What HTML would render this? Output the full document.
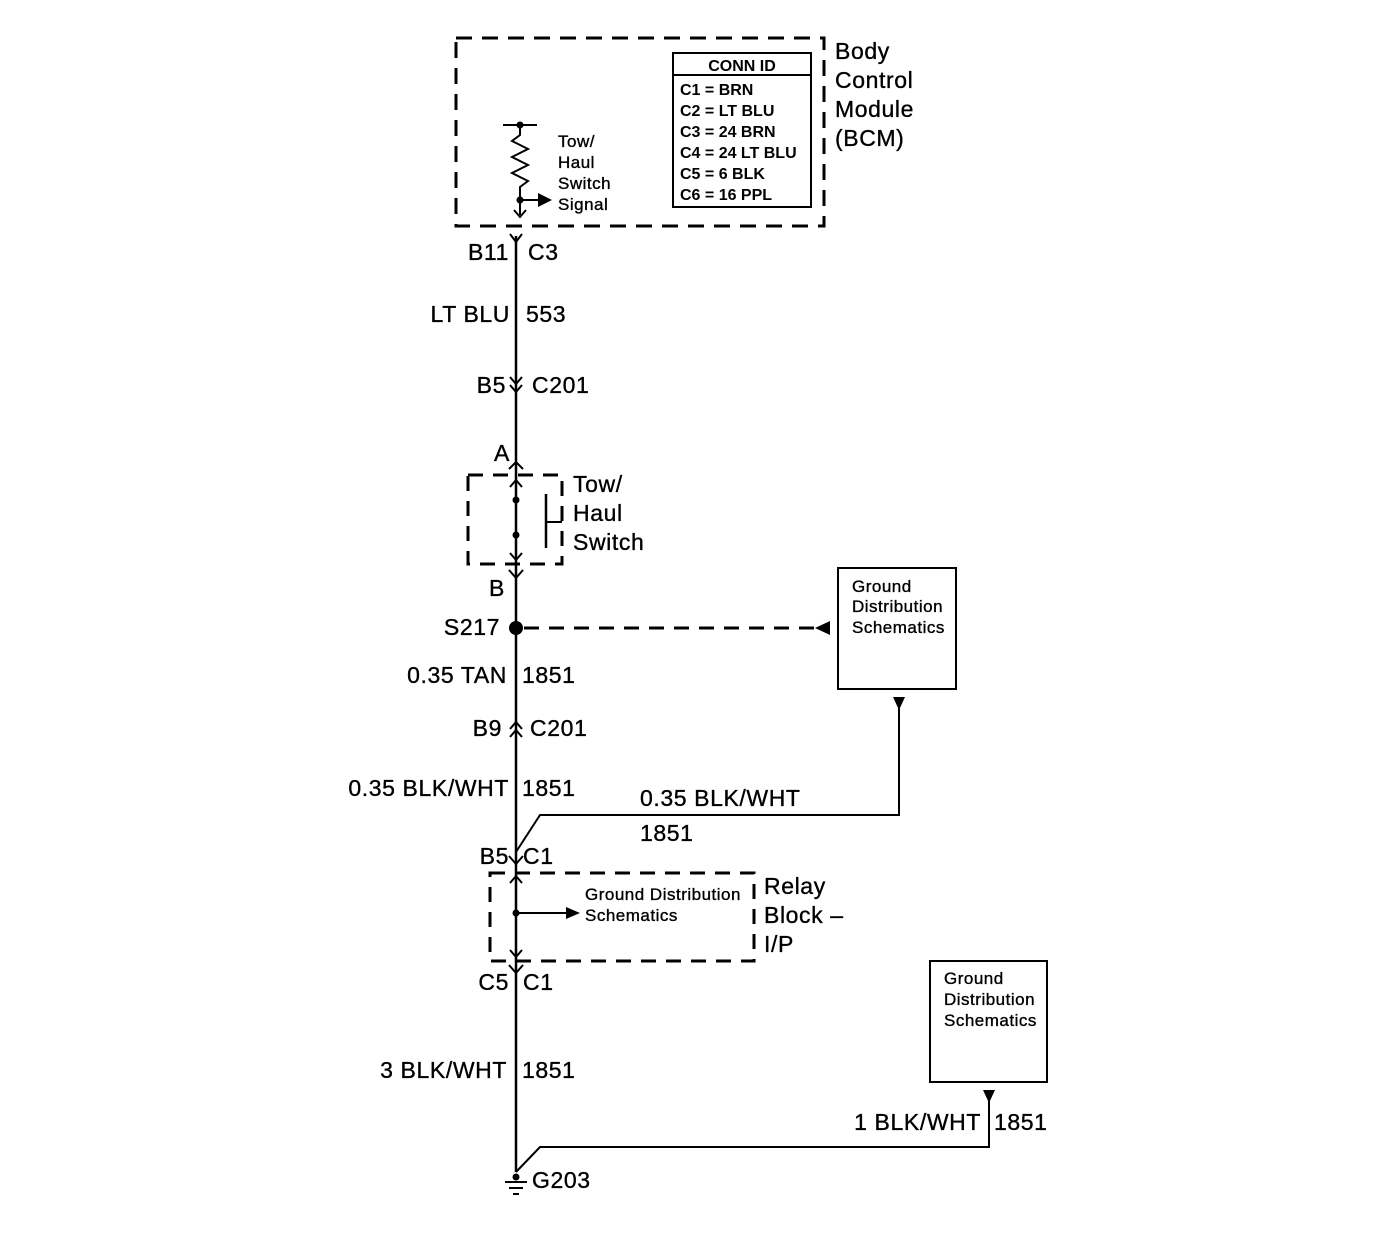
<!DOCTYPE html>
<html><head><style>
html,body{margin:0;padding:0;background:#fff;}
svg{display:block;}
text{font-family:"Liberation Sans",Arial,sans-serif;fill:#000;stroke:#000;stroke-width:0.35;}
.l{font-size:23px;letter-spacing:0.6px;}
.m{font-size:17px;letter-spacing:0.5px;}
.s{font-size:16px;font-weight:bold;stroke-width:0;}
</style></head><body>
<svg width="1400" height="1248" viewBox="0 0 1400 1248" xmlns="http://www.w3.org/2000/svg">
<g fill="none" stroke="#000">
<rect x="456" y="38" width="368" height="188" stroke-width="3" stroke-dasharray="16,10"/>
<rect x="673" y="53" width="138" height="154" stroke-width="2"/>
<line x1="673" y1="75" x2="811" y2="75" stroke-width="2"/>
<line x1="503" y1="125" x2="537" y2="125" stroke-width="2"/>
<polyline points="520,125 520,135 512,141 528,149 512,157 528,165 512,173 528,181 520,187 520,215" stroke-width="2"/>
<line x1="520" y1="200" x2="540" y2="200" stroke-width="2"/>
<polyline points="514,210 520,217 526,210" stroke-width="2"/>
<line x1="516" y1="236" x2="516" y2="1172" stroke-width="2.5"/>
<polyline points="510,234 516,242 522,234" stroke-width="2"/>
<polyline points="510,377 516,384 522,377" stroke-width="2"/>
<polyline points="510,385 516,392 522,385" stroke-width="2"/>
<polyline points="509,469 516,462 523,469" stroke-width="2"/>
<rect x="468" y="475" width="94" height="89" stroke-width="3" stroke-dasharray="15,10"/>
<polyline points="510,487 516,480 522,487" stroke-width="2"/>
<line x1="546" y1="494" x2="546" y2="548" stroke-width="2.5"/>
<line x1="546" y1="522" x2="562" y2="522" stroke-width="2"/>
<polyline points="510,553 516,560 522,553" stroke-width="2"/>
<polyline points="509,570 516,578 523,570" stroke-width="2"/>
<line x1="524" y1="628" x2="815" y2="628" stroke-width="3" stroke-dasharray="15,10"/>
<rect x="838" y="568" width="118" height="121" stroke-width="2"/>
<polyline points="510,729 516,722 522,729" stroke-width="2"/>
<polyline points="510,737 516,730 522,737" stroke-width="2"/>
<polyline points="516,852 540,815 899,815 899,706" stroke-width="2"/>
<polyline points="509,856 516,864 523,856" stroke-width="2"/>
<rect x="490" y="873" width="264" height="88" stroke-width="3" stroke-dasharray="15,10"/>
<polyline points="510,883 516,876 522,883" stroke-width="2"/>
<line x1="516" y1="913" x2="570" y2="913" stroke-width="2"/>
<polyline points="510,950 516,957 522,950" stroke-width="2"/>
<polyline points="509,965 516,973 523,965" stroke-width="2"/>
<rect x="930" y="961" width="117" height="121" stroke-width="2"/>
<polyline points="989,1100 989,1147 540,1147 516,1172" stroke-width="2"/>
<line x1="505" y1="1182" x2="527" y2="1182" stroke-width="2"/>
<line x1="509" y1="1188" x2="523" y2="1188" stroke-width="2"/>
<line x1="513" y1="1194" x2="519" y2="1194" stroke-width="2"/>
</g>
<g fill="#000">
<circle cx="520" cy="125" r="3.5"/>
<circle cx="520" cy="200" r="3.5"/>
<polygon points="538,193 552,200 538,207"/>
<circle cx="516" cy="500" r="3.5"/>
<circle cx="516" cy="535" r="3.5"/>
<circle cx="516" cy="628" r="7"/>
<polygon points="815,628 830,621 830,635"/>
<polygon points="893,697 905,697 899,710"/>
<circle cx="516" cy="913" r="3.5"/>
<polygon points="566,907 580,913 566,919"/>
<polygon points="983,1090 995,1090 989,1103"/>
<circle cx="516" cy="1177" r="3.5"/>
</g>
<text class="s" x="742" y="71" text-anchor="middle">CONN ID</text>
<text class="s" x="680" y="95">C1 = BRN</text>
<text class="s" x="680" y="116">C2 = LT BLU</text>
<text class="s" x="680" y="137">C3 = 24 BRN</text>
<text class="s" x="680" y="158">C4 = 24 LT BLU</text>
<text class="s" x="680" y="179">C5 = 6 BLK</text>
<text class="s" x="680" y="200">C6 = 16 PPL</text>
<text class="l" x="835" y="59">Body</text>
<text class="l" x="835" y="88">Control</text>
<text class="l" x="835" y="117">Module</text>
<text class="l" x="835" y="146">(BCM)</text>
<text class="m" x="558" y="147">Tow/</text>
<text class="m" x="558" y="168">Haul</text>
<text class="m" x="558" y="189">Switch</text>
<text class="m" x="558" y="210">Signal</text>
<text class="l" x="509" y="260" text-anchor="end">B11</text>
<text class="l" x="528" y="260">C3</text>
<text class="l" x="510" y="322" text-anchor="end">LT BLU</text>
<text class="l" x="526" y="322">553</text>
<text class="l" x="506" y="393" text-anchor="end">B5</text>
<text class="l" x="532" y="393">C201</text>
<text class="l" x="494" y="461">A</text>
<text class="l" x="573" y="492">Tow/</text>
<text class="l" x="573" y="521">Haul</text>
<text class="l" x="573" y="550">Switch</text>
<text class="l" x="489" y="596">B</text>
<text class="l" x="500" y="635" text-anchor="end">S217</text>
<text class="m" x="852" y="592">Ground</text>
<text class="m" x="852" y="612">Distribution</text>
<text class="m" x="852" y="633">Schematics</text>
<text class="l" x="507" y="683" text-anchor="end">0.35 TAN</text>
<text class="l" x="522" y="683">1851</text>
<text class="l" x="502" y="736" text-anchor="end">B9</text>
<text class="l" x="530" y="736">C201</text>
<text class="l" x="509" y="796" text-anchor="end">0.35 BLK/WHT</text>
<text class="l" x="522" y="796">1851</text>
<text class="l" x="640" y="806">0.35 BLK/WHT</text>
<text class="l" x="640" y="841">1851</text>
<text class="l" x="509" y="864" text-anchor="end">B5</text>
<text class="l" x="523" y="864">C1</text>
<text class="m" x="585" y="900">Ground Distribution</text>
<text class="m" x="585" y="921">Schematics</text>
<text class="l" x="764" y="894">Relay</text>
<text class="l" x="764" y="923">Block –</text>
<text class="l" x="764" y="952">I/P</text>
<text class="l" x="509" y="990" text-anchor="end">C5</text>
<text class="l" x="523" y="990">C1</text>
<text class="m" x="944" y="984">Ground</text>
<text class="m" x="944" y="1005">Distribution</text>
<text class="m" x="944" y="1026">Schematics</text>
<text class="l" x="507" y="1078" text-anchor="end">3 BLK/WHT</text>
<text class="l" x="522" y="1078">1851</text>
<text class="l" x="981" y="1130" text-anchor="end">1 BLK/WHT</text>
<text class="l" x="994" y="1130">1851</text>
<text class="l" x="532" y="1188">G203</text>
</svg>
</body></html>
